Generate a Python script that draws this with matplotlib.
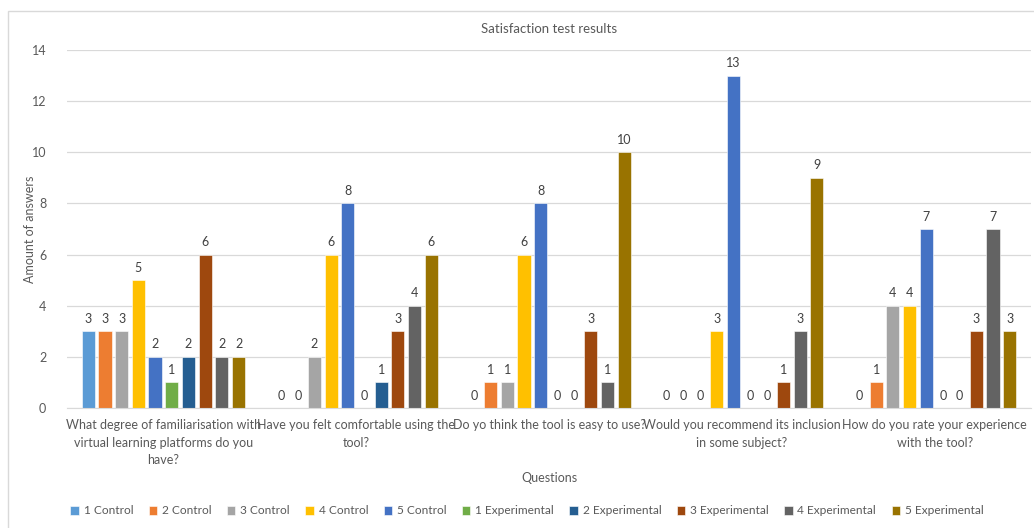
import matplotlib
matplotlib.use("Agg")
import matplotlib.pyplot as plt
import numpy as np
from matplotlib.patches import Rectangle

plt.rcParams['font.family'] = ['Lato', 'DejaVu Sans']

questions = [
    "What degree of familiarisation with\nvirtual learning platforms do you\nhave?",
    "Have you felt comfortable using the\ntool?",
    "Do yo think the tool is easy to use?",
    "Would you recommend its inclusion\nin some subject?",
    "How do you rate your experience\nwith the tool?",
]
series_names = ["1 Control", "2 Control", "3 Control", "4 Control", "5 Control",
                "1 Experimental", "2 Experimental", "3 Experimental",
                "4 Experimental", "5 Experimental"]
values = [
    [3, 0, 0, 0, 0],   # 1 Control
    [3, 0, 1, 0, 1],   # 2 Control
    [3, 2, 1, 0, 4],   # 3 Control
    [5, 6, 6, 3, 4],   # 4 Control
    [2, 8, 8, 13, 7],  # 5 Control
    [1, 0, 0, 0, 0],   # 1 Experimental
    [2, 1, 0, 0, 0],   # 2 Experimental
    [6, 3, 3, 1, 3],   # 3 Experimental
    [2, 4, 1, 3, 7],   # 4 Experimental
    [2, 6, 10, 9, 3],  # 5 Experimental
]
colors = ["#5B9BD5", "#ED7D31", "#A5A5A5", "#FFC000", "#4472C4",
          "#70AD47", "#255E91", "#9E480E", "#636363", "#997300"]

txt = "#595959"
fig = plt.figure(figsize=(10.34, 5.28), dpi=100)
ax = fig.add_axes([67/1034, 1 - 408/528, (1031 - 67)/1034, (408 - 50)/528])

n = len(series_names)
x = np.arange(len(questions))
pitch = 0.0866
bw = 0.068
for i, (name, vals, c) in enumerate(zip(series_names, values, colors)):
    pos = x + (i - (n - 1) / 2) * pitch
    ax.bar(pos, vals, width=bw, color=c, label=name,
           edgecolor="white", linewidth=0.4)
    for p, v in zip(pos, vals):
        ax.text(p, v + 0.25, str(v), ha="center", va="bottom",
                fontsize=9, color="#404040")

ax.set_xlim(-0.5, len(questions) - 0.5)
ax.set_ylim(0, 14)
ax.set_yticks(range(0, 15, 2))
ax.set_xticks(x)
ax.set_xticklabels(questions, fontsize=8.9, color=txt, linespacing=1.55)
ax.tick_params(axis="both", length=0, colors=txt, labelsize=9)
ax.tick_params(axis="x", pad=8)
ax.tick_params(axis="y", pad=15)
ax.grid(axis="y", color="#D9D9D9", linewidth=0.9)
ax.set_axisbelow(True)
for s in ["top", "right", "left"]:
    ax.spines[s].set_visible(False)
ax.spines["bottom"].set_color("#D9D9D9")

ax.set_title("Satisfaction test results", fontsize=9.5, color=txt, pad=12)
fig.text(30/1034, 1 - 229/528, "Amount of answers", rotation=90,
         ha="center", va="center", fontsize=9, color=txt)
fig.text(549/1034, 1 - 478/528, "Questions", ha="center", va="center",
         fontsize=9, color=txt)

leg = fig.legend(loc="center", bbox_to_anchor=(527/1034, 1 - 511/528), ncol=10,
                 frameon=False, fontsize=8.6, handlelength=0.7, handleheight=0.7,
                 handletextpad=0.4, columnspacing=1.3)
for t in leg.get_texts():
    t.set_color(txt)

fig.patches.append(Rectangle((7.5/1034, -0.1), 1.2, 1 - 11.5/528 + 0.1,
                             transform=fig.transFigure, fill=False,
                             edgecolor="#D9D9D9", linewidth=1))

fig.savefig("out.png", dpi=100)
